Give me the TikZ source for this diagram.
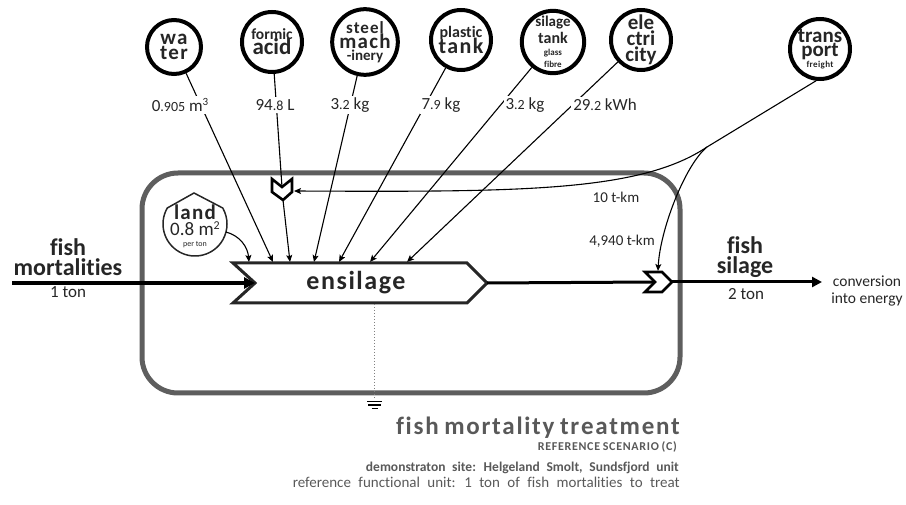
\documentclass[tikz,border=0pt]{standalone}
\usepackage{fontspec}
\setmainfont{Carlito}[Ligatures=NoCommon]
\newfontfamily\spc{Carlito}[LetterSpace=6,Ligatures=NoCommon]
\newfontfamily\spcs{Carlito}[LetterSpace=4,Ligatures=NoCommon]
\newfontfamily\wide{Carlito}[WordSpace=2.2,Ligatures=NoCommon]
\usetikzlibrary{arrows.meta}
\definecolor{boxgray}{HTML}{5E5E5E}
\definecolor{txt}{HTML}{262626}
\definecolor{ttl}{HTML}{595959}
\newcommand{\fs}[2]{\fontsize{#1}{#2}\selectfont}
\newcommand{\dec}[1]{{\fontsize{14}{14}\selectfont #1}}
\def\lsloop#1{\ifx#1\relax\else#1\kern\lsk\expandafter\lsloop\fi}
\newcommand{\lw}[2]{\def\lsk{#1}\lsloop#2\relax\unkern}
\tikzset{
  res/.style={circle, draw=black, line width=4pt, minimum size=60pt, inner sep=0pt, align=center, text=txt, font=\bfseries},
  feed/.style={line width=1.1pt, -{Stealth[length=7pt,width=6pt,inset=1.5pt]}},
  plain/.style={line width=1.1pt},
  val/.style={fill=white, inner sep=2pt, text=txt, font=\fs{17}{17}},
  small/.style={text=txt, font=\fs{15}{15}, inner sep=1pt},
  big/.style={text=txt, font=\bfseries\fs{24}{20}, align=center, inner sep=0pt},
  chev/.style={line width=2.6pt, draw=black, fill=white, line join=miter},
}
\begin{document}
\begin{tikzpicture}[x=1pt,y=1pt]
\useasboundingbox (0,0) rectangle (906,-505);

% system boundary
\draw[boxgray, line width=5pt, rounded corners=36pt] (142,-173) rectangle (680,-393);

% resource circles
\node[res, minimum size=54pt] (water) at (174,-47) {\spc\bfseries\fs{21}{15}wa\\\spc\bfseries\fs{21}{15}ter};
\node[res] (formic) at (272,-42) {\fs{15.5}{16}formic\\[-2pt]\fs{23}{16}acid};
\node[res] (steel) at (365,-42) {\spc\bfseries\fs{17}{13}steel\\[-1pt]\spc\bfseries\fs{21}{13}mach\\[0pt]\fs{15}{13}-inery};
\node[res] (plastic) at (461,-40) {\fs{16}{15}plastic\\[-3pt]\spc\bfseries\fs{22}{15}tank};
\node[res] (silt) at (553,-42) {\fs{15}{10}silage\\[2pt]\fs{16}{10}tank\\\fs{9}{10}glass\\\fs{9}{10}fibre};
\node[res] (elec) at (641,-40) {\fs{21}{14}ele\\\fs{21}{14}ctri\\\fs{21}{14}city};
\node[res] (tr) at (820,-49) {\fs{21}{13}trans\\[-1pt]\fs{21}{13}port\\[-1pt]\spcs\bfseries\fs{9}{13}freight};

% land
\draw[txt, line width=1.5pt] (194,-193) -- (167.3,-208) arc[start angle=150, end angle=390, radius=32] -- cycle;
\node[align=center, text=txt, inner sep=0pt] (land) at (195,-226)
  {\spc\bfseries\fs{21}{14}land\\[1pt]\fs{19}{13}0.8 m\raisebox{6pt}{\fs{12}{12}2}\\[-1pt]\fs{8}{8}per ton};

% targets on the ensilage block
\coordinate (tland) at (249,-262);
\coordinate (tw) at (273,-262);
\coordinate (tf) at (290,-262);
\coordinate (ts) at (314,-262);
\coordinate (tp) at (339,-262);
\coordinate (tg) at (370,-262);
\coordinate (te) at (407,-262);

% chevron on formic acid line
\coordinate (c1top) at (282,-187);
\coordinate (c1bot) at (283,-200);
\coordinate (c1r) at (294,-191);
% chevron on output line
\coordinate (c2top) at (658,-271);
\coordinate (c2in) at (655,-282);
\coordinate (c2out) at (672,-282);
\coordinate (split) at (707,-147);
\coordinate (src) at (12,-283);
\coordinate (notch) at (255,-283);
\coordinate (ensout) at (487,-283);
\coordinate (dest) at (822,-282);

% feed lines
\draw[feed] (water) -- (tw);
\draw[plain] (formic) -- (c1top);
\draw[feed] (c1bot) -- (tf);
\draw[feed] (steel) -- (ts);
\draw[feed] (plastic) -- (tp);
\draw[feed] (silt) -- (tg);
\draw[feed] (elec) -- (te);
\draw[feed] (226,-232) to[out=-15, in=95] (tland);

% transport
\draw[plain] (tr.-97) -- (split);
\draw[feed] (split) .. controls (640,-192) and (520,-192) .. (c1r);
\draw[feed] (split) .. controls (685,-165) and (660,-230) .. (c2top);

% value labels
\node[val] (vw) at (180,-105) {0\dec{.905} m\raisebox{6pt}{\fs{11}{11}3}};
\node[val] (vf) at (275,-105) {94\dec{.8} L};
\node[val] (vs) at (350,-105) {3\dec{.2} kg};
\node[val] (vp) at (441,-105) {7\dec{.9} kg};
\node[val] (vg) at (525,-105) {3\dec{.2} kg};
\node[val] (ve) at (605,-105) {29\dec{.2} kWh};

\node[small] (l10) at (616,-197) {10 t-km};
\node[small] (l4940) at (622,-241) {4,940 t-km};

% chevron 1
\draw[chev] (272,-179) -- (c1top) -- (292,-179) -- (292,-192) -- (c1bot) -- (272,-192) -- cycle;

% ensilage block
\draw[line width=3pt, draw=txt, fill=white, line join=miter]
  (233,-263) -- (467,-263) -- (ensout) -- (467,-303) -- (233,-303) -- (notch) -- cycle;
\node[text=txt, font=\spc\bfseries\fs{26}{26}] (ens) at (356,-283) {ensilage};

% main flows
\draw[line width=4pt, -{Triangle[length=11pt,width=11pt]}] (src) -- (notch);
\draw[line width=3pt] (ensout) -- (c2in);
\draw[chev] (645,-272) -- (662,-272) -- (c2out) -- (662,-292) -- (645,-292) -- (c2in) -- cycle;
\draw[line width=3pt, -{Triangle[length=10pt,width=10pt]}] (c2out) -- (dest);

\node[big] (fm) at (68,-257) {fish\\mortalities};
\node[text=txt, font=\fs{17}{17}] (t1) at (68,-292) {1 ton};
\node[big] (fs) at (745,-257) {fish\\silage};
\node[text=txt, font=\fs{17}{17}] (t2) at (746,-294) {2 ton};
\node[text=txt, font=\fs{15.5}{17}, align=center, inner sep=0pt] (conv) at (867,-291) {conversion\\into energy};

% emissions / ground
\coordinate (gtop) at (374,-304);
\coordinate (gbot) at (374,-399);
\draw[gray, dotted, line width=1pt] (gtop) -- (gbot);
\draw[black, line width=1.5pt] (367,-401.5) -- (382,-401.5);
\draw[black, line width=2pt] (368,-405) -- (381,-405);
\draw[black, line width=1.5pt] (371.5,-408.5) -- (378,-408.5);

% titles
\node[anchor=base east, text=ttl, font=\bfseries\fs{25}{25}, inner sep=0pt] (title) at (680,-434)
  {\lw{1.7pt}{fish} \lw{1.7pt}{mortality} \lw{1.7pt}{treatment}};
\node[anchor=base east, text=ttl, font=\bfseries\fs{12}{12}, inner sep=0pt] (scen) at (677,-450)
  {\lw{0.7pt}{REFERENCE} \lw{0.7pt}{SCENARIO} \lw{0.7pt}{(C)}};
\node[anchor=base east, text=ttl, font=\wide\bfseries\fs{13.5}{14}, inner sep=0pt] (site) at (679,-471) {demonstraton site: Helgeland Smolt, Sundsfjord unit};
\node[anchor=base east, text=ttl, font=\wide\fs{15}{15}, inner sep=0pt] (fu) at (680,-487) {reference functional unit: 1 ton of fish mortalities to treat};
\end{tikzpicture}
\end{document}
